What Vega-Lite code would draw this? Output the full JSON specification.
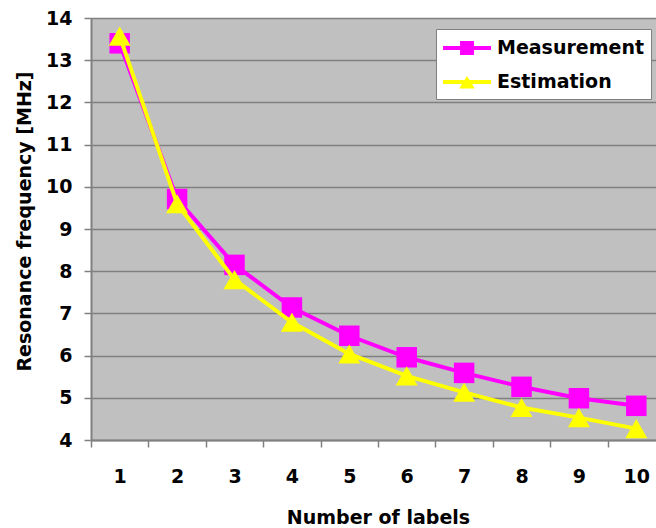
{
  "$schema": "https://vega.github.io/schema/vega-lite/v6.json",
  "width": 565,
  "height": 422,
  "autosize": {"type": "none"},
  "padding": {"left": 91, "top": 18, "right": 0, "bottom": 88},
  "background": "white",
  "config": {
    "view": {"stroke": null, "fill": "#C0C0C0"},
    "font": "DejaVu Sans",
    "legend": {
      "orient": "none",
      "legendX": 345,
      "legendY": 11,
      "fillColor": "white",
      "strokeColor": "#808080",
      "padding": 7,
      "symbolSize": 576,
      "symbolOpacity": 1,
      "symbolStrokeWidth": 0,
      "labelFont": "DejaVu Sans",
      "labelFontWeight": "bold",
      "labelFontSize": 19,
      "labelColor": "black",
      "labelOffset": 30,
      "rowPadding": 12,
      "title": null
    }
  },
  "data": {
    "values": [
      {"n": 1, "series": "Measurement", "f": 13.40},
      {"n": 2, "series": "Measurement", "f": 9.71},
      {"n": 3, "series": "Measurement", "f": 8.15},
      {"n": 4, "series": "Measurement", "f": 7.14},
      {"n": 5, "series": "Measurement", "f": 6.47},
      {"n": 6, "series": "Measurement", "f": 5.96},
      {"n": 7, "series": "Measurement", "f": 5.59},
      {"n": 8, "series": "Measurement", "f": 5.26},
      {"n": 9, "series": "Measurement", "f": 4.99},
      {"n": 10, "series": "Measurement", "f": 4.81},
      {"n": 1, "series": "Estimation", "f": 13.57},
      {"n": 2, "series": "Estimation", "f": 9.60},
      {"n": 3, "series": "Estimation", "f": 7.80},
      {"n": 4, "series": "Estimation", "f": 6.79},
      {"n": 5, "series": "Estimation", "f": 6.04},
      {"n": 6, "series": "Estimation", "f": 5.52},
      {"n": 7, "series": "Estimation", "f": 5.13},
      {"n": 8, "series": "Estimation", "f": 4.77},
      {"n": 9, "series": "Estimation", "f": 4.53},
      {"n": 10, "series": "Estimation", "f": 4.27}
    ]
  },
  "encoding": {
    "x": {
      "field": "n",
      "type": "quantitative",
      "scale": {"domain": [0.5, 10.343], "nice": false, "zero": false},
      "axis": {
        "values": [0.5, 1.5, 2.5, 3.5, 4.5, 5.5, 6.5, 7.5, 8.5, 9.5],
        "labelExpr": "format(datum.value + 0.5, 'd')",
        "labelOffset": 28.7,
        "grid": false,
        "domainColor": "#808080",
        "domainWidth": 2,
        "tickColor": "#808080",
        "tickWidth": 1.5,
        "tickSize": 7,
        "labelPadding": 20,
        "labelFont": "DejaVu Sans",
        "labelFontWeight": "bold",
        "labelFontSize": 19,
        "labelColor": "black",
        "labelBound": false,
        "labelFlush": false,
        "labelOverlap": false,
        "title": "Number of labels",
        "titleFont": "DejaVu Sans",
        "titleFontSize": 19,
        "titleFontWeight": "bold",
        "titleColor": "black",
        "titleX": 287,
        "titleY": 83,
        "titleBaseline": "alphabetic",
        "titleAlign": "center"
      }
    },
    "y": {
      "field": "f",
      "type": "quantitative",
      "scale": {"domain": [4, 14], "nice": false, "zero": false},
      "axis": {
        "values": [4, 5, 6, 7, 8, 9, 10, 11, 12, 13, 14],
        "grid": true,
        "gridColor": "#808080",
        "gridWidth": 1.5,
        "domainColor": "#808080",
        "domainWidth": 2,
        "tickColor": "#808080",
        "tickWidth": 1.5,
        "tickSize": 7,
        "labelPadding": 12,
        "labelFont": "DejaVu Sans",
        "labelFontWeight": "bold",
        "labelFontSize": 19,
        "labelColor": "black",
        "labelBound": false,
        "labelFlush": false,
        "labelOverlap": false,
        "title": "Resonance frequency [MHz]",
        "titleFont": "DejaVu Sans",
        "titleFontSize": 19,
        "titleFontWeight": "bold",
        "titleColor": "black",
        "titleAngle": 270,
        "titleX": -61,
        "titleY": 203,
        "titleAlign": "center",
        "titleBaseline": "alphabetic"
      }
    }
  },
  "layer": [
    {
      "transform": [{"filter": "datum.series === 'Measurement'"}],
      "mark": {"type": "line", "color": "#FF00FF", "strokeWidth": 4}
    },
    {
      "transform": [{"filter": "datum.series === 'Measurement'"}],
      "mark": {"type": "point", "shape": "square", "filled": true, "color": "#FF00FF", "size": 420, "opacity": 1}
    },
    {
      "transform": [{"filter": "datum.series === 'Estimation'"}],
      "mark": {"type": "line", "color": "#FFFF00", "strokeWidth": 4}
    },
    {
      "transform": [{"filter": "datum.series === 'Estimation'"}],
      "mark": {"type": "point", "shape": "triangle-up", "filled": true, "color": "#FFFF00", "size": 484, "opacity": 1}
    },
    {
      "mark": {"type": "point", "filled": true, "opacity": 0},
      "encoding": {
        "shape": {
          "field": "series",
          "type": "nominal",
          "scale": {
            "domain": ["Measurement", "Estimation"],
            "range": ["M-1,-0.17H3V0.17H-1Z M0.42,-0.58H1.58V0.58H0.42Z", "M-1,-0.17H3V0.17H-1Z M1,-0.5L1.65,0.55H0.35Z"]
          }
        },
        "fill": {
          "field": "series",
          "type": "nominal",
          "scale": {"domain": ["Measurement", "Estimation"], "range": ["#FF00FF", "#FFFF00"]}
        }
      }
    }
  ]
}
